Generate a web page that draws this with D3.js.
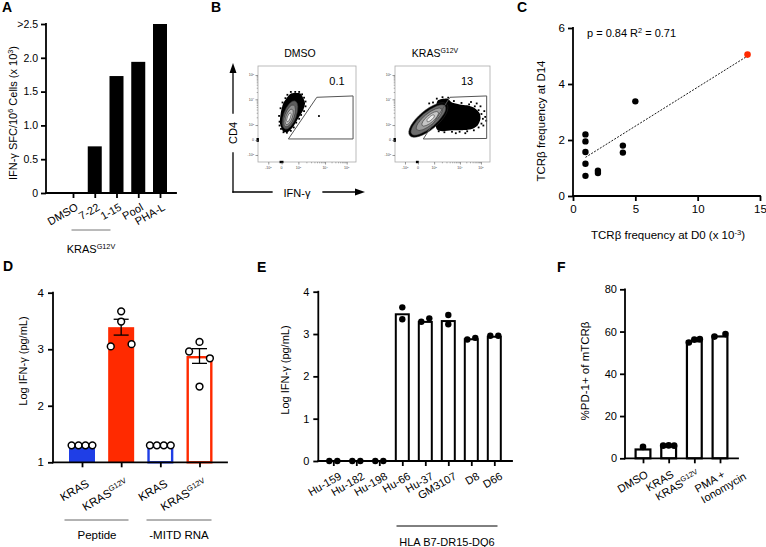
<!DOCTYPE html>
<html><head><meta charset="utf-8">
<script src="https://cdn.jsdelivr.net/npm/d3@7"></script>
<style>
body{margin:0;background:#fff}
svg{display:block;font-family:"Liberation Sans",Arial,Helvetica,sans-serif}
</style></head><body>
<svg id="fig" width="766" height="547"></svg>
<script>
// ---------- DATA ----------
// Panel A
const aCats = ["DMSO","7-22","1-15","Pool","PHA-L"];
const aVals = [0, 0.69, 1.73, 1.94, 2.5];
const aTicks = [0,0.5,1,1.5,2,2.5];
const aTickLabels = ["0","0.5","1.0","1.5","2.0",">2.5"];
const aGroupLabel = "KRAS^{G12V}";
// Panel B (flow cytometry, arbitrary display units 0-100)
const bTitles = ["DMSO","KRAS^{G12V}"];
const bPercent = ["0.1","13"];
const bTickPos = [10.5,24.1,41.2,68.4,90.5];
const bTickPosY = [7.3,22.9,38.5,65.3,90.6];
const bTickLabels = ["-10^{3}","0","10^{3}","10^{4}","10^{5}"];
const bGates = [
  [[31,24],[60,67.4],[97,68.8],[97,24]],
  [[29.8,24],[57.9,67.4],[96.5,68.8],[96.5,24.5]]
];
const bDense = [
  [[25.8,31.6],[22.4,40.3],[23.2,50.7],[25.8,61.1],[30.9,68.8],[34.4,71.6],[42.9,71.6],[46.2,66.4],[48,61.1],[46.2,54.2],[41.1,45.5],[36,36.8],[30.9,31.6]],
  [[45,64],[55,66],[60,62],[68,60],[76,59],[84,56],[89,51],[90,45],[87,38],[80,34],[70,33],[60,33],[50,32],[44,34],[42,45],[43,55]]
];
const bContours = [
  [[32.7,49,6.5,15.5,20],[32.2,48,4.8,12,20],[31.8,47,3.2,8.5,20],[31.5,46.5,1.6,5,20]],
  [[35.1,43.75,25.5,10,-40],[35.1,43.75,23,8,-40],[36,44.5,17,5.8,-40],[37,45,11,3.8,-40],[37.5,45.5,5,1.8,-40]]
];
const bEvents = [
  [[22,42],[21.5,48],[23,56],[25,62],[28,66.5],[30,70],[33.5,73],[38,73],[42,73],[45,70.5],[47,67],[48.5,63],[48.5,58],[47,53],[44,49],[42,45],[39,41],[36.5,36],[33.5,32.5],[29.5,30.5],[26,31],[23.5,34.5],[22,38],[62.2,47.9]],
  [[44,66],[50,67.5],[56,67],[62,63.5],[70,61.5],[78,60],[84,58],[88,54],[91,50],[92.5,45],[91,40],[88,36],[83,33],[76,32],[68,31.5],[60,31.5],[52,31],[46,32],[95,47],[94,53],[90,58],[86,61],[80,62.5],[93,38],[96,43],[74,30],[64,30],[40,62],[36,61]]
];
const bPileX = [[22,26],[22,25]];
const bPileY = [[21,25],[21,25]];
// Panel C
const cX = [1,1,1,1,1,2,2,4,4,5];
const cY = [2.2,1.95,1.57,1.15,0.72,0.9,0.82,1.8,1.55,3.38];
const cRedX = [14], cRedY = [5.05];
const cFitX = [1,14], cFitY = [1.38,5.0];
const cXTicks = [0,5,10,15], cYTicks = [0,2,4,6];
const cStat = "p = 0.84 R^{2} = 0.71";
// Panel D
const dCats = ["KRAS","KRAS^{G12V}","KRAS","KRAS^{G12V}"];
const dMeans = [1.3, 3.39, 1.3, 2.88];
const dSem = [0, 0.14, 0, 0.13];
const dPoints = [[1.3,1.3,1.3,1.3],[3.05,3.67,3.49,3.09],[1.3,1.3,1.3,1.3],[2.96,3.13,2.84,2.34]];
const dGroups = ["Peptide","-MITD RNA"];
const dTicks = [1,2,3,4];
// Panel E
const eCats = ["Hu-159","Hu-182","Hu-198","Hu-66","Hu-37","GM3107","D8","D66"];
const eMeans = [0,0,0,3.49,3.31,3.33,2.9,2.96];
const ePoints = [[0,0],[0,0],[0,0],[3.63,3.35],[3.29,3.37],[3.45,3.23],[2.87,2.91],[2.96,2.96]];
const eGroup = "HLA B7-DR15-DQ6";
const eTicks = [0,1,2,3,4];
// Panel F
const fCats = ["DMSO","KRAS","KRAS^{G12V}","PMA +|Ionomycin"];
const fMeans = [4.7, 6.2, 55.9, 58.2];
const fPoints = [[5.4],[6.0,6.1,6.0],[54.8,56.2,56.4],[57.6,58.8]];
const fTicks = [0,20,40,60,80];

// ---------- HELPERS ----------
const svg = d3.select("#fig");
const FONT = '"Liberation Sans",Arial,Helvetica,sans-serif';
const BLUE = "#1f3ee6", RED = "#ff2a00";
const AX = 1.8;

function rich(t, str, fs){
  const parts = str.split(/(\^\{[^}]*\})/).filter(p=>p!=="");
  let shift = 0;
  parts.forEach(p=>{
    if(p.startsWith("^{")){
      const ts = t.append("tspan").attr("font-size", fs*0.66);
      const target = -fs*0.38;
      if(target-shift!==0) ts.attr("dy", target-shift);
      shift = target; ts.text(p.slice(2,-1));
    } else {
      const ts = t.append("tspan");
      if(shift!==0) ts.attr("dy", -shift);
      shift = 0; ts.text(p);
    }
  });
  return t;
}
function text(x,y,str,fs,anchor,rot){
  const t = svg.append("text").attr("font-size",fs).attr("text-anchor",anchor||"start").attr("fill","#000");
  if(rot){ t.attr("transform",`translate(${x},${y}) rotate(${rot})`); }
  else { t.attr("x",x).attr("y",y); }
  return rich(t,str,fs);
}
function line(x1,y1,x2,y2,w,c){
  return svg.append("line").attr("x1",x1).attr("y1",y1).attr("x2",x2).attr("y2",y2)
    .attr("stroke",c||"#000").attr("stroke-width",w||AX).attr("stroke-linecap","square");
}
function styleAxis(g, fs){
  g.attr("font-family",FONT).attr("font-size",fs);
  g.select(".domain").remove();
  g.selectAll(".tick line").attr("stroke","#000").attr("stroke-width",AX);
  g.selectAll(".tick text").attr("fill","#000");
}
function catLabels(labels, xs, axisY, off, fs){
  labels.forEach((lab,i)=>{
    const g = svg.append("g").attr("transform",`translate(${xs[i]+off[0]},${axisY+off[1]}) rotate(-30)`);
    const lines = lab.split("|");
    const t0 = g.append("text").attr("text-anchor","end").attr("y",fs*0.35).attr("font-size",fs);
    rich(t0, lines[0], fs);
    if(lines.length>1){
      const w0 = t0.node().getBBox().width;
      lines.slice(1).forEach((ln,j)=>{
        const t = g.append("text").attr("x",-w0).attr("y",fs*0.35+(j+1)*fs*1.12).attr("font-size",fs);
        rich(t, ln, fs);
      });
    }
  });
}
function spread(vals, ys, maxSpread, thr){
  const items = vals.map((v,i)=>({i,y:ys(v)})).sort((a,b)=>a.y-b.y||a.i-b.i);
  const clusters = []; let cur = [];
  items.forEach((it,k)=>{
    if(k>0 && it.y-items[k-1].y>=thr){ clusters.push(cur); cur=[]; }
    cur.push(it);
  });
  clusters.push(cur);
  const off = new Array(vals.length).fill(0);
  clusters.forEach(cl=>{
    cl.sort((a,b)=>a.i-b.i);
    const n = cl.length, s = n>1 ? maxSpread/(n-1) : 0;
    cl.forEach((it,k)=>{ off[it.i] = (k-(n-1)/2)*s; });
  });
  return off;
}
function panelLabel(t,x,y){ svg.append("text").attr("x",x).attr("y",y).attr("font-size",14).attr("font-weight","bold").text(t); }

// ---------- PANEL A ----------
panelLabel("A",2,12);
{
  const y = d3.scaleLinear([0,2.5],[193,24]);
  const x = d3.scalePoint(aCats,[73,160]);
  const bw = 14;
  svg.append("g").selectAll("rect").data(aVals).join("rect")
    .attr("x",(d,i)=>x(aCats[i])-bw/2).attr("width",bw)
    .attr("y",d=>y(d)).attr("height",d=>y(0)-y(d)).attr("fill","#000");
  const ga = svg.append("g").attr("transform","translate(46,0)")
    .call(d3.axisLeft(y).tickValues(aTicks).tickFormat((d,i)=>aTickLabels[i]).tickSize(5).tickPadding(3));
  styleAxis(ga,10.5);
  const gx = svg.append("g").attr("transform","translate(0,193)")
    .call(d3.axisBottom(x).tickFormat("").tickSize(5));
  styleAxis(gx,11);
  line(46,24,46,193); line(46,193,176,193);
  catLabels(aCats, aCats.map(c=>x(c)), 193, [4,13], 11);
  line(72,230,110,230,1,"#777");
  text(91,253,aGroupLabel,11,"middle");
  text(17,113,"IFN-γ  SFC/10^{6} Cells (x 10^{3})",11,"middle",-90);
}

// ---------- PANEL B ----------
panelLabel("B",211,12);
{
  const boxes = [{x:258,y:66,w:98,h:96},{x:395,y:66,w:95,h:96}];
  const fillSets = [["#5c5c5c","#8e8e8e","#bdbdbd","#ececec"],["#000","#6e6e6e","#9c9c9c","#c6c6c6","#eeeeee"]];
  const titleX = [300,435];
  const pctX = [337,467];
  boxes.forEach((bx,k)=>{
    const sx = d3.scaleLinear([0,100],[bx.x,bx.x+bx.w]);
    const sy = d3.scaleLinear([0,100],[bx.y+bx.h,bx.y]);
    const g = svg.append("g");
    const ln = d3.line().x(d=>sx(d[0])).y(d=>sy(d[1]));
    g.append("path").attr("d", ln.curve(d3.curveCardinalClosed.tension(0.3))(bDense[k])).attr("fill","#000");
    g.selectAll("rect.ev").data(bEvents[k]).join("rect").attr("class","ev")
      .attr("x",d=>sx(d[0])-0.9).attr("y",d=>sy(d[1])-0.9).attr("width",1.8).attr("height",1.8).attr("fill","#000");
    bContours[k].forEach((c,j)=>{
      g.append("ellipse").attr("transform",`translate(${sx(c[0])},${sy(c[1])}) rotate(${c[4]})`)
        .attr("rx",c[2]*bx.w/100).attr("ry",c[3]*bx.h/100)
        .attr("fill",fillSets[k][j]).attr("stroke","#2a2a2a").attr("stroke-width",0.5);
    });
    g.append("path").attr("d", d3.line().x(d=>sx(d[0])).y(d=>sy(d[1]))(bGates[k])+"Z")
      .attr("fill","none").attr("stroke","#555").attr("stroke-width",1);
    g.append("rect").attr("x",bx.x).attr("y",bx.y).attr("width",bx.w).attr("height",bx.h)
      .attr("fill","none").attr("stroke","#aaa").attr("stroke-width",0.8);
    g.append("rect").attr("x",sx(bPileX[k][0])).attr("width",sx(bPileX[k][1])-sx(bPileX[k][0]))
      .attr("y",bx.y+bx.h-1.2).attr("height",2.4).attr("fill","#000");
    g.append("rect").attr("y",sy(bPileY[k][1])).attr("height",sy(bPileY[k][0])-sy(bPileY[k][1]))
      .attr("x",bx.x-1.5).attr("width",2.4).attr("fill","#000");
    const minor = [], minorY = [];
    for(let m=2;m<4;m++){
      for(let q=2;q<10;q++){
        minor.push(bTickPos[m]+(bTickPos[m+1]-bTickPos[m])*Math.log10(q));
        minorY.push(bTickPosY[m]+(bTickPosY[m+1]-bTickPosY[m])*Math.log10(q));
      }
    }
    const mk = (axis,tr,vals,size,col)=>{
      const a = g.append("g").attr("transform",tr).call(axis.tickValues(vals).tickFormat("").tickSize(size));
      a.select(".domain").remove(); a.selectAll("line").attr("stroke",col).attr("stroke-width",0.6);
    };
    mk(d3.axisBottom(sx),`translate(0,${bx.y+bx.h})`,bTickPos,2.5,"#555");
    mk(d3.axisBottom(sx),`translate(0,${bx.y+bx.h})`,minor,1.3,"#777");
    mk(d3.axisLeft(sy),`translate(${bx.x},0)`,bTickPosY,2.5,"#555");
    mk(d3.axisLeft(sy),`translate(${bx.x},0)`,minorY,1.3,"#777");
    bTickPos.forEach((p,i)=>{
      const t = g.append("text").attr("x",sx(p)).attr("y",bx.y+bx.h+7).attr("font-size",3.6).attr("text-anchor","middle").attr("fill","#444");
      rich(t,bTickLabels[i],3.6);
    });
    bTickPosY.forEach((p,i)=>{
      const t = g.append("text").attr("x",bx.x-4).attr("y",sy(p)+1.2).attr("font-size",3.6).attr("text-anchor","end").attr("fill","#444");
      rich(t,bTickLabels[i],3.6);
    });
    text(titleX[k],57,bTitles[k],10.5,"middle");
    text(pctX[k],85,bPercent[k],11,"middle");
  });
  line(233,192,233,153,1.3); line(233,113,233,72,1.3);
  svg.append("path").attr("d","M233,63L229.5,73L236.5,73Z").attr("fill","#000");
  text(237,133,"CD4",11,"middle",-90);
  line(233,192,272,192,1.3); line(323,192,355,192,1.3);
  svg.append("path").attr("d","M365,192L355,188.5L355,195.5Z").attr("fill","#000");
  text(297,196.5,"IFN-γ",11,"middle");
}

// ---------- PANEL C ----------
panelLabel("C",517,12);
{
  const x = d3.scaleLinear([0,15],[573,760]);
  const y = d3.scaleLinear([0,6],[196,28]);
  const gy = svg.append("g").attr("transform","translate(573,0)")
    .call(d3.axisLeft(y).tickValues(cYTicks).tickFormat(d3.format("d")).tickSize(5).tickPadding(3));
  styleAxis(gy,11.5);
  const gx = svg.append("g").attr("transform","translate(0,196)")
    .call(d3.axisBottom(x).tickValues(cXTicks).tickFormat(d3.format("d")).tickSize(5).tickPadding(4));
  styleAxis(gx,11.5);
  line(573,28,573,196); line(573,196,760,196);
  svg.append("path").attr("d", d3.line().x(d=>x(d[0])).y(d=>y(d[1]))(cFitX.map((v,i)=>[v,cFitY[i]])))
    .attr("stroke","#000").attr("stroke-width",0.9).attr("stroke-dasharray","2,1.4").attr("fill","none");
  svg.append("g").selectAll("circle").data(cX).join("circle")
    .attr("cx",d=>x(d)).attr("cy",(d,i)=>y(cY[i])).attr("r",3.2).attr("fill","#000");
  svg.append("g").selectAll("circle").data(cRedX).join("circle")
    .attr("cx",d=>x(d)).attr("cy",(d,i)=>y(cRedY[i])).attr("r",3.3).attr("fill",RED);
  text(587,37,cStat,11,"start");
  text(668,239,"TCRβ frequency at D0 (x 10^{-3})",11.5,"middle");
  text(545,121,"TCRβ frequency at D14",11.5,"middle",-90);
}

// ---------- PANEL D ----------
panelLabel("D",3,271);
{
  const idx = dCats.map((d,i)=>i);
  const x = d3.scalePoint(idx,[82,199.5]);
  const y = d3.scaleLinear([1,4],[462.3,292.7]);
  const bw = 26;
  const styles = [{f:BLUE,s:BLUE},{f:RED,s:RED},{f:"#fff",s:BLUE},{f:"#fff",s:RED}];
  dMeans.forEach((m,i)=>{
    const sw = 2.4;
    const r = svg.append("rect").attr("fill",styles[i].f);
    if(styles[i].f==="#fff"){
      r.attr("x",x(i)-bw/2+sw/2).attr("width",bw-sw).attr("y",y(m)+sw/2).attr("height",y(1)-y(m)-sw/2)
       .attr("stroke",styles[i].s).attr("stroke-width",sw);
    } else {
      r.attr("x",x(i)-bw/2).attr("width",bw).attr("y",y(m)).attr("height",y(1)-y(m));
    }
  });
  const gy = svg.append("g").attr("transform","translate(53,0)")
    .call(d3.axisLeft(y).tickValues(dTicks).tickFormat(d3.format("d")).tickSize(5).tickPadding(4));
  styleAxis(gy,11.5);
  const gx = svg.append("g").attr("transform","translate(0,462.3)")
    .call(d3.axisBottom(x).tickFormat("").tickSize(5));
  styleAxis(gx,11);
  line(53,292.7,53,462.3); line(53,462.3,227,462.3);
  dMeans.forEach((m,i)=>{
    if(dSem[i]>0){
      line(x(i),y(m-dSem[i]),x(i),y(m+dSem[i]),1.3).attr("stroke-linecap","butt");
      line(x(i)-7.5,y(m+dSem[i]),x(i)+7.5,y(m+dSem[i]),1.3).attr("stroke-linecap","butt");
      line(x(i)-7.5,y(m-dSem[i]),x(i)+7.5,y(m-dSem[i]),1.3).attr("stroke-linecap","butt");
    }
  });
  dPoints.forEach((pts,i)=>{
    const off = spread(pts,y,20.8,8);
    pts.forEach((v,j)=>{
      svg.append("circle").attr("cx",x(i)+off[j]).attr("cy",y(v)).attr("r",3.4)
        .attr("fill","#fff").attr("stroke","#000").attr("stroke-width",1.5);
    });
  });
  catLabels(dCats, idx.map(i=>x(i)), 462.3, [6,20], 11.5);
  line(65,520,128,520,1,"#666"); line(147,520,211,520,1,"#666");
  text(97,539,dGroups[0],11.5,"middle");
  text(179,539,dGroups[1],11.5,"middle");
  text(27,361,"Log IFN-γ (pg/mL)",11,"middle",-90);
}

// ---------- PANEL E ----------
panelLabel("E",257,272);
{
  const x = d3.scalePoint(eCats,[333.3,494.3]);
  const y = d3.scaleLinear([0,4],[461,291.7]);
  const bw = 15, sw = 2;
  svg.append("g").selectAll("rect").data(eMeans).join("rect")
    .attr("x",(d,i)=>x(eCats[i])-bw/2+sw/2).attr("width",bw-sw)
    .attr("y",d=>y(d)+sw/2).attr("height",d=>Math.max(0,y(0)-y(d)-sw/2))
    .attr("fill","#fff").attr("stroke","#000").attr("stroke-width",sw)
    .attr("display",d=>d>0?null:"none");
  const gy = svg.append("g").attr("transform","translate(318.3,0)")
    .call(d3.axisLeft(y).tickValues(eTicks).tickFormat(d3.format("d")).tickSize(5).tickPadding(4));
  styleAxis(gy,11);
  const gx = svg.append("g").attr("transform","translate(0,461)")
    .call(d3.axisBottom(x).tickFormat("").tickSize(5));
  styleAxis(gx,11);
  line(318.3,291.7,318.3,461); line(318.3,461,512,461);
  ePoints.forEach((pts,i)=>{
    const off = spread(pts,y,8,7);
    pts.forEach((v,j)=>{
      svg.append("circle").attr("cx",x(eCats[i])+off[j]).attr("cy",y(v)).attr("r",3.2).attr("fill","#000");
    });
  });
  catLabels(eCats, eCats.map(c=>x(c)), 461, [7,14], 11);
  line(397,526,497,526,1,"#000");
  text(447,546,eGroup,11,"middle");
  text(289,370,"Log IFN-γ (pg/mL)",11,"middle",-90);
}

// ---------- PANEL F ----------
panelLabel("F",557,272);
{
  const x = d3.scalePoint(fCats,[643,720]);
  const y = d3.scaleLinear([0,80],[458.3,289.3]);
  const bw = 17, sw = 2.2;
  svg.append("g").selectAll("rect").data(fMeans).join("rect")
    .attr("x",(d,i)=>x(fCats[i])-bw/2+sw/2).attr("width",bw-sw)
    .attr("y",d=>y(d)+sw/2).attr("height",d=>y(0)-y(d)-sw/2)
    .attr("fill","#fff").attr("stroke","#000").attr("stroke-width",sw);
  const gy = svg.append("g").attr("transform","translate(625,0)")
    .call(d3.axisLeft(y).tickValues(fTicks).tickFormat(d3.format("d")).tickSize(5).tickPadding(3));
  styleAxis(gy,11);
  const gx = svg.append("g").attr("transform","translate(0,458.3)")
    .call(d3.axisBottom(x).tickFormat("").tickSize(5));
  styleAxis(gx,11);
  line(625,289.3,625,458.3); line(625,458.3,738,458.3);
  fPoints.forEach((pts,i)=>{
    const off = spread(pts,y,11,7);
    pts.forEach((v,j)=>{
      svg.append("circle").attr("cx",x(fCats[i])+off[j]).attr("cy",y(v)).attr("r",3.3).attr("fill","#000");
    });
  });
  catLabels(fCats, fCats.map(c=>x(c)), 458.3, [4,15], 11);
  text(589,371,"%PD-1+ of mTCRβ",11.5,"middle",-90);
}
</script>
</body></html>
